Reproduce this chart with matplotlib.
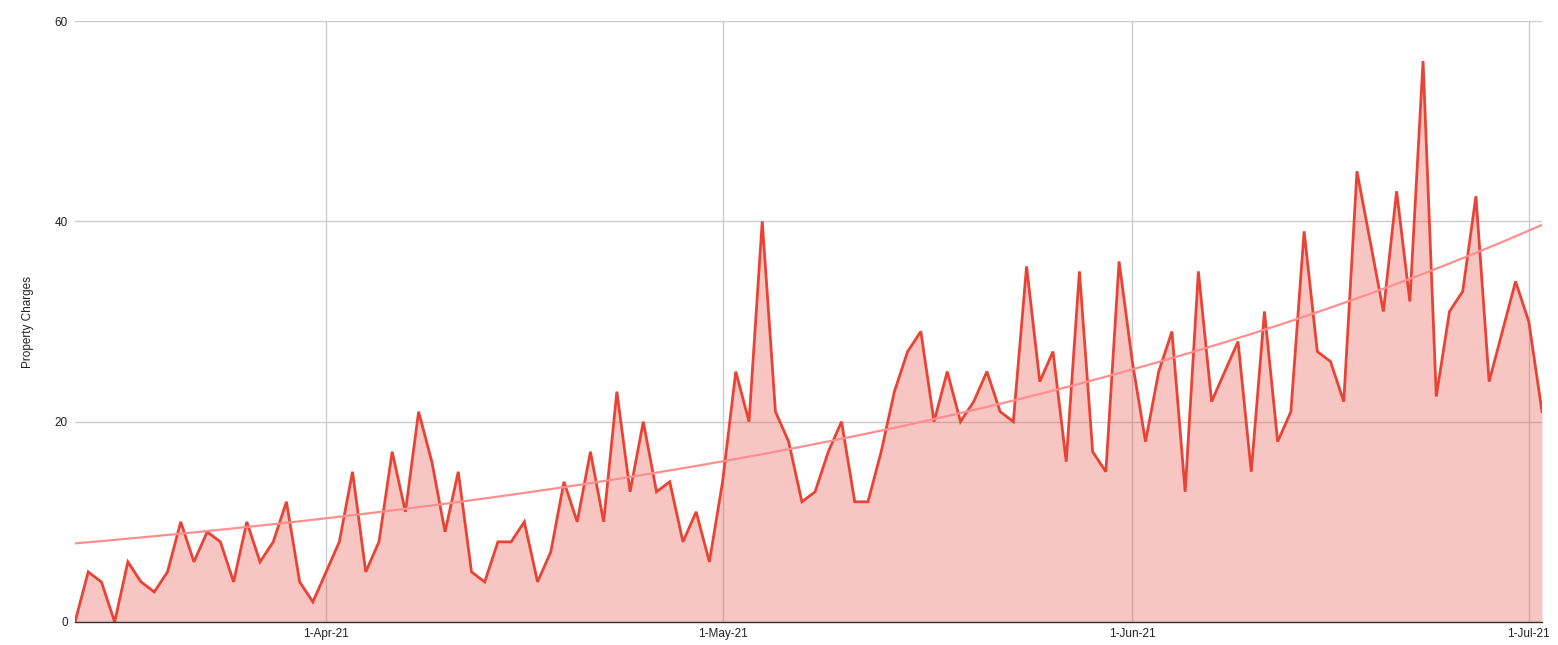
import numpy as np
import pandas as pd
import matplotlib
matplotlib.use("Agg")
import matplotlib.pyplot as plt

# daily property charges, 13-Mar-21 .. 2-Jul-21
start_date = "2021-03-13"
charges = [
    0, 5, 4, 0, 6, 4, 3, 5, 10, 6, 9, 8, 4, 10, 6, 8, 12, 4, 2, 5,
    8, 15, 5, 8, 17, 11, 21, 16, 9, 15, 5, 4, 8, 8, 10, 4, 7, 14, 10, 17,
    10, 23, 13, 20, 13, 14, 8, 11, 6, 14, 25, 20, 40, 21, 18, 12, 13, 17, 20, 12,
    12, 17, 23, 27, 29, 20, 25, 20, 22, 25, 21, 20, 35.5, 24, 27, 16, 35, 17, 15, 36,
    26, 18, 25, 29, 13, 35, 22, 25, 28, 15, 31, 18, 21, 39, 27, 26, 22, 45, 38, 31,
    43, 32, 56, 22.5, 31, 33, 42.5, 24, 29, 34, 30, 21,
]
tick_dates = ["2021-04-01", "2021-05-01", "2021-06-01", "2021-07-01"]
tick_labels = ["1-Apr-21", "1-May-21", "1-Jun-21", "1-Jul-21"]
y_ticks = [0, 20, 40, 60]

dates = pd.date_range(start_date, periods=len(charges), freq="D")
df = pd.DataFrame({"date": dates, "charges": charges})

# exponential trendline: fit ln(y) weighted by y (zeros dropped)
t = np.arange(len(df), dtype=float)
y = df["charges"].to_numpy(dtype=float)
pos = y > 0
k, lnA = np.polyfit(t[pos], np.log(y[pos]), 1, w=np.sqrt(y[pos]))
trend = np.exp(lnA + k * t)

series_color = "#EA4335"
trend_color = "#ff8f8f"

plt.rcParams["font.family"] = ["Liberation Sans", "DejaVu Sans"]
fig = plt.figure(figsize=(15.58, 6.45), dpi=100)
ax = fig.add_axes([75 / 1558, 1 - 622 / 645, 1467 / 1558, 601 / 645])

ax.fill_between(df["date"], df["charges"], 0, color=series_color, alpha=0.3, lw=0)
ax.plot(df["date"], df["charges"], color=series_color, lw=2, solid_joinstyle="miter")
ax.plot(df["date"], trend, color=trend_color, lw=1.6)

ax.set_xlim(df["date"].iloc[0], df["date"].iloc[-1])
ax.set_ylim(0, 60)
ax.set_yticks(y_ticks)
ax.set_xticks(pd.to_datetime(tick_dates))
ax.set_xticklabels(tick_labels)

ax.grid(True, color="#cccccc", lw=1)
ax.set_axisbelow(True)
for s in ["top", "right", "left"]:
    ax.spines[s].set_visible(False)
ax.spines["bottom"].set_color("#333333")
ax.spines["bottom"].set_linewidth(1)
ax.tick_params(length=0, labelsize=8.5, colors="#222222")
ax.tick_params(axis="y", pad=5)
ax.tick_params(axis="x", pad=4)

ax.set_ylabel("Property Charges", fontsize=8.5, color="#222222", labelpad=15)

plt.savefig("out.png", dpi=100)
plt.close()
